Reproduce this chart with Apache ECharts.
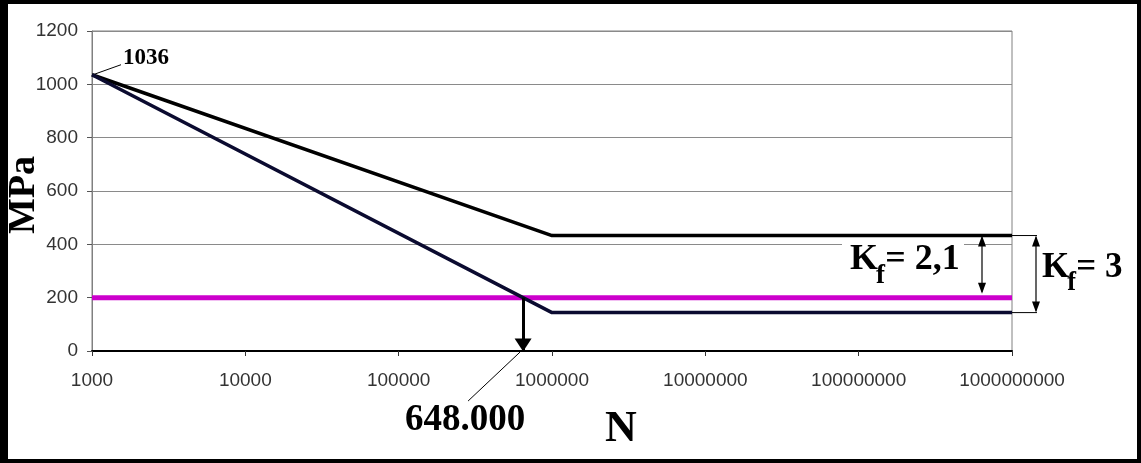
<!DOCTYPE html>
<html>
<head>
<meta charset="utf-8">
<script src="https://cdn.jsdelivr.net/npm/echarts@6/dist/echarts.min.js"></script>
<style>
  html, body { margin: 0; padding: 0; background: #fff; }
  #wrap { position: relative; width: 1141px; height: 463px; }
  #chart { width: 1141px; height: 463px; }
  #frame {
    position: absolute; left: 0; top: 0; width: 1141px; height: 463px;
    box-sizing: border-box; border: 4px solid #000; border-left-width: 8px;
    pointer-events: none;
  }
</style>
</head>
<body>
<div id="wrap">
  <div id="chart"></div>
  <div id="frame"></div>
</div>
<script>
// --- data ---
const cycles = [1000, 1000000, 1000000000];
const upperMPa = [1036, 433, 433];      // Kf = 2,1 curve
const lowerMPa = [1036, 144, 144];      // Kf = 3 curve
const limitCycles = [1000, 1000000000];
const limitMPa = [200, 200];            // working stress
const crossCycles = 648000;             // life at 200 MPa
const startLabel = '1036';
const crossLabel = '648.000';

const SERIF = '"Liberation Serif", "Times New Roman", serif';
const SANS = '"Liberation Sans", Arial, sans-serif';

const chart = echarts.init(document.getElementById('chart'), null, { renderer: 'canvas' });

const pairs = (xs, ys) => xs.map((x, i) => [x, ys[i]]);

chart.setOption({
  animation: false,
  backgroundColor: '#fff',
  grid: {
    left: 92, right: 129, top: 31, bottom: 112,
    show: true, borderColor: '#808080', borderWidth: 1
  },
  xAxis: {
    type: 'log',
    logBase: 10,
    min: 1000,
    max: 1000000000,
    splitNumber: 6,
    axisLine: { lineStyle: { color: '#000', width: 2 } },
    axisTick: { length: 5, lineStyle: { color: '#333' } },
    splitLine: { show: false },
    minorTick: { show: false },
    axisLabel: {
      margin: 20,
      fontFamily: SANS,
      fontSize: 19,
      color: '#333',
      formatter: v => String(Math.round(v))
    }
  },
  yAxis: {
    type: 'value',
    min: 0,
    max: 1200,
    interval: 200,
    axisLine: { show: true, lineStyle: { color: '#808080', width: 1 } },
    axisTick: { show: true, length: 5, lineStyle: { color: '#555' } },
    splitLine: { lineStyle: { color: '#8a8a8a', width: 1 } },
    axisLabel: {
      margin: 14,
      fontFamily: SANS,
      fontSize: 19,
      color: '#333',
      formatter: v => String(v)
    }
  },
  series: [
    {
      name: 'limit',
      type: 'line',
      data: pairs(limitCycles, limitMPa),
      symbol: 'none',
      lineStyle: { color: '#cc00cc', width: 5 },
      z: 2
    },
    {
      name: 'Kf 2,1',
      type: 'line',
      data: pairs(cycles, upperMPa),
      symbol: 'none',
      lineStyle: { color: '#000', width: 3.5 },
      z: 3
    },
    {
      name: 'Kf 3',
      type: 'line',
      data: pairs(cycles, lowerMPa),
      symbol: 'none',
      lineStyle: { color: '#0b0b30', width: 3.5 },
      z: 3
    },
    {
      name: 'life',
      type: 'line',
      data: [],
      markLine: {
        silent: true,
        symbol: ['none', 'triangle'],
        symbolSize: [17, 13],
        symbolOffset: [0, [0, 6]],
        label: { show: false },
        lineStyle: { color: '#000', width: 3, type: 'solid' },
        data: [[{ coord: [crossCycles, limitMPa[0]] }, { coord: [crossCycles, 0] }]]
      },
      z: 4
    }
  ]
});

// --- annotations placed from the axes' own scales ---
function px(pt) { return chart.convertToPixel({ gridIndex: 0 }, pt); }

function head(x, y, dir) {
  // small filled arrow head, tip at (x, y), dir = 1 points down, -1 points up
  return {
    type: 'polygon',
    shape: { points: [[x, y], [x - 4, y - dir * 11], [x + 4, y - dir * 11]] },
    style: { fill: '#000' }
  };
}

function txt(x, y, text, size, align, rotation) {
  return {
    type: 'text', x: x, y: y, z: 5, rotation: rotation || 0,
    style: {
      text: text, fontFamily: SERIF, fontWeight: 'bold', fontSize: size, fill: '#000',
      align: align || 'left', verticalAlign: 'middle'
    }
  };
}

// K with subscript f, then "= value"
function kf(x, y, value, size) {
  return [
    txt(x, y, 'K', size),
    txt(x + size * 0.72, y + size * 0.45, 'f', size * 0.75),
    txt(x + size * 0.98, y, '= ' + value, size)
  ];
}

const pStart = px([cycles[0], upperMPa[0]]);
const pUp = px([cycles[2], upperMPa[2]]);
const pLow = px([cycles[2], lowerMPa[2]]);
const pLim = px([limitCycles[1], limitMPa[1]]);
const pCross = px([crossCycles, 0]);
const line = (x1, y1, x2, y2, w) => ({
  type: 'line', shape: { x1, y1, x2, y2 }, style: { stroke: '#000', lineWidth: w || 1 }
});

const ax3 = pUp[0] + 24;
const ax21 = pUp[0] - 30;

chart.setOption({
  graphic: [
    // 1036 callout
    line(pStart[0] + 1, pStart[1], pStart[0] + 29, pStart[1] - 10),
    txt(pStart[0] + 31, pStart[1] - 17, startLabel, 23),
    // 648.000 callout
    line(pCross[0] - 3, pCross[1] + 1, pCross[0] - 55, pCross[1] + 50),
    txt(pCross[0] - 58, pCross[1] + 69, crossLabel, 37, 'center'),
    // axis names
    txt(24, 195, 'MPa', 38, 'center', Math.PI / 2),
    txt(621, 430, 'N', 44, 'center'),
    // Kf = 3 dimension
    line(pUp[0], pUp[1], ax3 + 1, pUp[1]),
    line(pLow[0], pLow[1], ax3 + 1, pLow[1]),
    line(ax3, pUp[1] + 2, ax3, pLow[1] - 2, 1.2),
    head(ax3, pUp[1], -1),
    head(ax3, pLow[1], 1),
    ...kf(ax3 + 6, pUp[1] + 32, '3', 35),
    // Kf = 2,1 dimension
    line(ax21, pUp[1] + 2, ax21, pLim[1] - 6, 1.2),
    head(ax21, pUp[1], -1),
    head(ax21, pLim[1] - 4, 1),
    {
      type: 'rect', z: 1,
      shape: { x: ax21 - 140, y: pUp[1] + 8, width: 122, height: 46 },
      style: { fill: '#fff' }
    },
    ...kf(ax21 - 132, pUp[1] + 24, '2,1', 36)
  ]
});
</script>
</body>
</html>
